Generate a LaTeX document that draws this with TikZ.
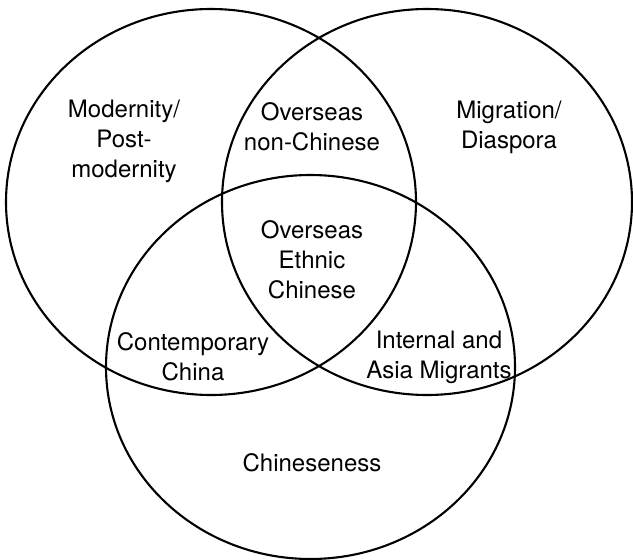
\documentclass[tikz,border=0pt]{standalone}
\usepackage{fontspec}
\setmainfont{TeX Gyre Heros}
\begin{document}
\begin{tikzpicture}[x=1pt,y=-1pt,
  ring/.style={draw=black,line width=2.1pt},
  lbl/.style={align=center,inner sep=0pt,font=\fontsize{24}{30}\selectfont}]
\useasboundingbox[fill=white] (0,0) rectangle (633,560);
\draw[ring] (211,202) ellipse [x radius=205,y radius=193];
\draw[ring] (427,202) ellipse [x radius=205,y radius=193];
\draw[ring] (310.5,367) ellipse [x radius=204.5,y radius=192];
\node[lbl] (mod) at (124,141) {Modernity/\\Post-\\modernity};
\node[lbl] (onc) at (312,127) {Overseas\\non-Chinese};
\node[lbl] (mig) at (509,127) {Migration/\\Diaspora};
\node[lbl] (oec) at (312,260) {Overseas\\Ethnic\\Chinese};
\node[lbl] (cc) at (193,357) {Contemporary\\China};
\node[lbl] (iam) at (439,357) {Internal and\\Asia Migrants};
\node[lbl] (chn) at (312,463) {Chineseness};
\end{tikzpicture}
\end{document}
